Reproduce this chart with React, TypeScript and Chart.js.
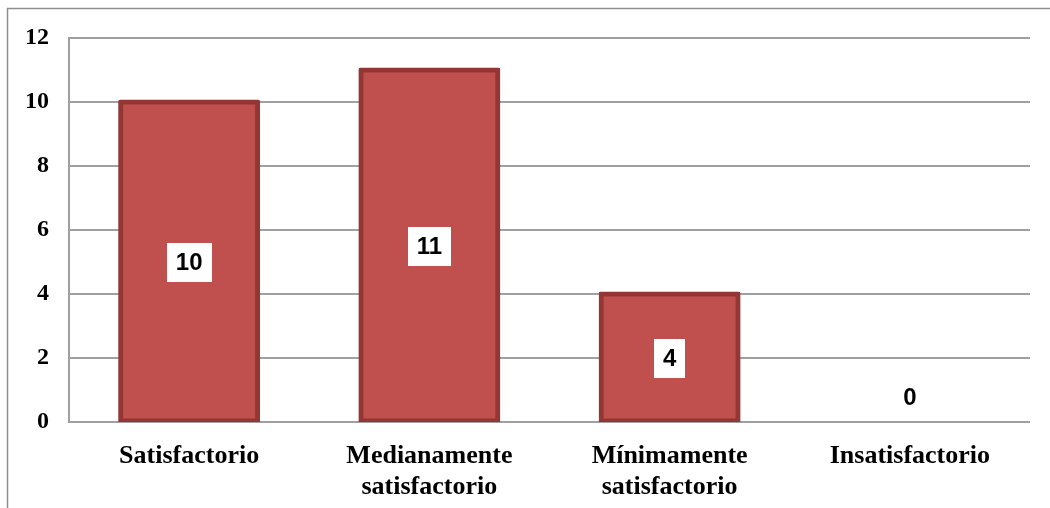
import React, { useEffect, useRef } from "react";
import { Chart, registerables } from "chart.js";

Chart.register(...registerables);

const categories: (string | string[])[] = [
  "Satisfactorio",
  ["Medianamente", "satisfactorio"],
  ["Mínimamente", "satisfactorio"],
  "Insatisfactorio",
];
const values: number[] = [10, 11, 4, 0];
const yTicks = { min: 0, max: 12, step: 2 };

const frameAndLabels = {
  id: "frameAndLabels",
  beforeDraw(chart: any) {
    const ctx = chart.ctx;
    ctx.save();
    ctx.strokeStyle = "#8f8f8f";
    ctx.lineWidth = 1.5;
    ctx.beginPath();
    ctx.moveTo(7.5, chart.height + 5);
    ctx.lineTo(7.5, 8.5);
    ctx.lineTo(chart.width + 5, 8.5);
    ctx.stroke();
    ctx.restore();
  },
  afterDatasetsDraw(chart: any) {
    const ctx = chart.ctx;
    const meta = chart.getDatasetMeta(0);
    const yScale = chart.scales.y;
    ctx.save();
    ctx.font = "bold 24px 'Liberation Sans', Arial, sans-serif";
    ctx.textAlign = "center";
    ctx.textBaseline = "middle";
    meta.data.forEach((bar: any, i: number) => {
      const v = values[i];
      const base = yScale.getPixelForValue(0);
      const top = yScale.getPixelForValue(v);
      const cy = v === 0 ? base - 25 : (base + top) / 2;
      const txt = String(v);
      const w = ctx.measureText(txt).width + 18;
      const h = 39;
      ctx.fillStyle = "#ffffff";
      ctx.fillRect(Math.round(bar.x - w / 2), Math.round(cy - h / 2), Math.round(w), h);
      ctx.fillStyle = "#000000";
      ctx.fillText(txt, bar.x, cy + 1);
    });
    ctx.restore();
  },
};

export default function App() {
  const ref = useRef<HTMLCanvasElement | null>(null);
  useEffect(() => {
    if (!ref.current) return;
    const chart = new Chart(ref.current, {
      type: "bar",
      data: {
        labels: categories as any,
        datasets: [
          {
            data: values,
            backgroundColor: values.map((v) => (v === 0 ? "rgba(0,0,0,0)" : "#C0504D")),
            borderColor: "#943634",
            borderWidth: values.map((v) => (v === 0 ? 0 : 5)),
            borderRadius: 2,
            borderSkipped: false,
            inflateAmount: values.map((v) => (v === 0 ? 0 : 2.5)),
            barPercentage: 0.57,
            categoryPercentage: 1,
          } as any,
        ],
      },
      options: {
        responsive: true,
        maintainAspectRatio: false,
        animation: false,
        layout: { padding: { left: 0, right: 20, top: 38, bottom: 0 } },
        plugins: {
          legend: { display: false },
          tooltip: { enabled: false },
        },
        scales: {
          x: {
            grid: { display: false, drawTicks: false },
            border: { display: false },
            ticks: {
              color: "#000",
              padding: 18,
              maxRotation: 0,
              autoSkip: false,
              font: { family: "'Liberation Serif', 'Times New Roman', serif", size: 26, weight: "bold", lineHeight: 1.22 },
            },
            afterFit: (s: any) => {
              s.height = 86;
            },
          },
          y: {
            min: yTicks.min,
            max: yTicks.max,
            ticks: {
              stepSize: yTicks.step,
              color: "#000",
              padding: 20,
              font: { family: "'Liberation Serif', 'Times New Roman', serif", size: 24, weight: "bold" },
            },
            grid: { color: "#a0a0a0", lineWidth: 2, drawTicks: false },
            border: { display: true, color: "#a0a0a0", width: 2 },
            afterFit: (s: any) => {
              s.width = 69;
            },
          },
        },
      },
      plugins: [frameAndLabels],
    });
    return () => chart.destroy();
  }, []);
  return (
    <div style={{ position: "fixed", left: 0, top: 0, width: 1050, height: 508, background: "#fff" }}>
      <canvas ref={ref} />
    </div>
  );
}
